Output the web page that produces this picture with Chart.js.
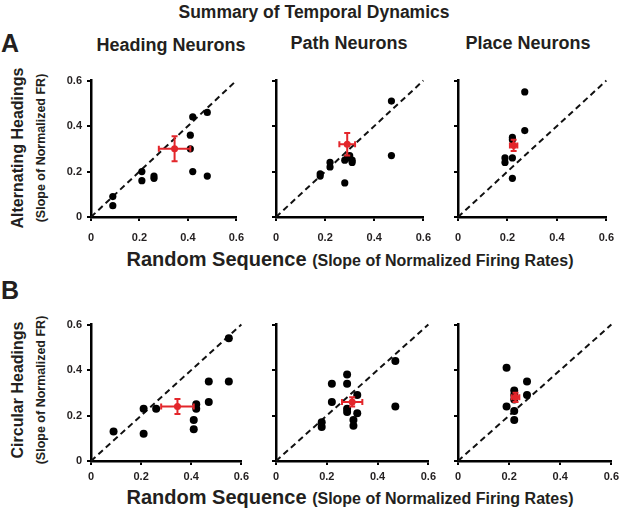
<!DOCTYPE html>
<html>
<head>
<meta charset="utf-8">
<script src="https://cdn.jsdelivr.net/npm/chart.js@4.4.0/dist/chart.umd.min.js"></script>
<style>
body{margin:0;background:#fff;width:625px;height:513px;position:relative;overflow:hidden;
  font-family:"Liberation Sans",Arial,sans-serif;font-weight:bold;color:#231f20}
.t{position:absolute;white-space:nowrap;transform:translate(-50%,-50%)}
.r{position:absolute;white-space:nowrap;transform:translate(-50%,-50%) rotate(-90deg)}
canvas{position:absolute}
</style>
</head>
<body>
<div class="t" style="left:314px;top:12px;font-size:17.5px">Summary of Temporal Dynamics</div>
<div class="t" style="left:10px;top:43px;font-size:25px">A</div>
<div class="t" style="left:10px;top:290px;font-size:25px">B</div>
<div class="t" style="left:171px;top:45px;font-size:18px">Heading Neurons</div>
<div class="t" style="left:349px;top:43px;font-size:18px">Path Neurons</div>
<div class="t" style="left:528px;top:43px;font-size:18px">Place Neurons</div>

<div class="r" style="left:18px;top:148px;font-size:16px">Alternating Headings</div>
<div class="r" style="left:41px;top:148px;font-size:12.5px">(Slope of Normalized FR)</div>
<div class="r" style="left:18px;top:390px;font-size:16px">Circular Headings</div>
<div class="r" style="left:41px;top:390px;font-size:12.5px">(Slope of Normalized FR)</div>

<div class="t" style="left:350px;top:259px;font-size:20px">Random Sequence <span style="font-size:16px">(Slope of Normalized Firing Rates)</span></div>
<div class="t" style="left:350px;top:497px;font-size:20px">Random Sequence <span style="font-size:16px">(Slope of Normalized Firing Rates)</span></div>

<canvas id="a1"></canvas><canvas id="a2"></canvas><canvas id="a3"></canvas>
<canvas id="b1"></canvas><canvas id="b2"></canvas><canvas id="b3"></canvas>

<script>
// tick values (same on both axes)
var tickVals = [0, 0.2, 0.4, 0.6];

// A: alternating headings vs random sequence
var hdAltX = [0.09,0.09,0.21,0.21,0.26,0.26,0.41,0.41,0.42,0.42,0.48,0.48];
var hdAltY = [0.09,0.05,0.20,0.16,0.18,0.17,0.36,0.30,0.44,0.20,0.46,0.18];
var hdAltMean = [0.345, 0.30], hdAltErr = [0.065, 0.055];

var ptAltX = [0.18,0.18,0.22,0.22,0.28,0.28,0.29,0.31,0.31,0.30,0.47,0.47];
var ptAltY = [0.19,0.18,0.24,0.22,0.25,0.15,0.26,0.25,0.24,0.27,0.51,0.27];
var ptAltMean = [0.29, 0.32], ptAltErr = [0.032, 0.05];

var plAltX = [0.27,0.27,0.22,0.22,0.19,0.19,0.22,0.22];
var plAltY = [0.55,0.38,0.35,0.34,0.26,0.24,0.26,0.17];
var plAltMean = [0.225, 0.315], plAltErr = [0.015, 0.025];

// B: circular headings vs random sequence
var hdCirX = [0.09,0.21,0.21,0.26,0.42,0.42,0.41,0.41,0.47,0.47,0.55,0.55];
var hdCirY = [0.13,0.23,0.12,0.23,0.25,0.23,0.18,0.14,0.26,0.35,0.54,0.35];
var hdCirMean = [0.345, 0.24], hdCirErr = [0.065, 0.033];

var ptCirX = [0.18,0.18,0.22,0.22,0.28,0.28,0.28,0.28,0.32,0.32,0.305,0.305,0.47,0.47];
var ptCirY = [0.17,0.15,0.34,0.26,0.38,0.34,0.23,0.215,0.29,0.21,0.18,0.155,0.44,0.24];
var ptCirMean = [0.30, 0.26], ptCirErr = [0.04, 0.02];

var plCirX = [0.19,0.19,0.22,0.22,0.22,0.22,0.22,0.27,0.27];
var plCirY = [0.41,0.24,0.31,0.29,0.27,0.22,0.18,0.35,0.29];
var plCirMean = [0.225, 0.28], plCirErr = [0.015, 0.02];

var red = '#e3262b';
var ink = '#231f20';

// pixel span of each plot area [start, end]
var cols = [[91,242],[276,429],[458,612]];
var rows = [[77,217],[321,461]];

function fmt(v) { return v === 0 ? '0' : v.toFixed(1); }

function setTicks(s) { s.ticks = tickVals.map(function(v){ return {value:v}; }); }

function panel(id, xs, ys, mean, err, col, row) {
	var L = cols[col], T = rows[row];
	var cv = document.getElementById(id);
	cv.width = L[1] - L[0] + 42;
	cv.height = T[1] - T[0] + 38;
	cv.style.left = (L[0] - 30) + 'px';
	cv.style.top = (T[0] - 8) + 'px';

	var pts = xs.map(function(x, i){ return {x:x, y:ys[i]}; });

	// red mean +/- error bars
	var errbars = {
		id: 'errbars',
		afterDatasetsDraw: function(chart) {
			var sx = chart.scales.x, sy = chart.scales.y, c = chart.ctx;
			var cx = sx.getPixelForValue(mean[0]), cy = sy.getPixelForValue(mean[1]);
			var x0 = sx.getPixelForValue(mean[0] - err[0]), x1 = sx.getPixelForValue(mean[0] + err[0]);
			var y0 = sy.getPixelForValue(mean[1] - err[1]), y1 = sy.getPixelForValue(mean[1] + err[1]);
			c.save();
			c.strokeStyle = red; c.lineWidth = 2;
			c.beginPath();
			c.moveTo(x0, cy); c.lineTo(x1, cy);
			c.moveTo(cx, y0); c.lineTo(cx, y1);
			c.moveTo(x0, cy-3); c.lineTo(x0, cy+3);
			c.moveTo(x1, cy-3); c.lineTo(x1, cy+3);
			c.moveTo(cx-3, y0); c.lineTo(cx+3, y0);
			c.moveTo(cx-3, y1); c.lineTo(cx+3, y1);
			c.stroke();
			c.restore();
		}
	};

	var axisGrid = {drawOnChartArea:false, drawTicks:true, tickLength:4, color:'#000', lineWidth:2};
	var axisBorder = {display:true, color:'#000', width:2.5};

	new Chart(cv, {
		type: 'scatter',
		data: {
			datasets: [
				{ data:[{x:mean[0], y:mean[1]}], pointRadius:3.5, backgroundColor:red, borderWidth:0, clip:false },
				{ data:pts, pointRadius: row ? 4 : 3.6, backgroundColor:'#000', borderWidth:0, clip:false },
				{ data:[{x:0,y:0},{x:0.6,y:0.6}], showLine:true, borderColor:'#111', borderWidth:2,
				  borderDash:[6,4], pointRadius:0, clip:false }
			]
		},
		options: {
			responsive: false,
			animation: false,
			layout: { padding: {left:0, right:12, top:8, bottom:0} },
			plugins: { legend:{display:false}, tooltip:{enabled:false} },
			scales: {
				x: {
					type:'linear', min:0, max:0.6,
					afterBuildTicks: setTicks,
					afterFit: function(s){ s.height = 30; },
					grid: axisGrid, border: axisBorder,
					ticks: { color:ink, padding: row ? 5 : 10, maxRotation:0, autoSkip:false, callback:fmt,
					         font:{family:'Liberation Sans', weight:'bold', size:11} }
				},
				y: {
					type:'linear', min:0, max:0.6,
					afterBuildTicks: setTicks,
					afterFit: function(s){ s.width = 30; },
					grid: axisGrid, border: axisBorder,
					ticks: { color: col === 0 ? ink : 'rgba(0,0,0,0)', padding:5, autoSkip:false, callback:fmt,
					         font:{family:'Liberation Sans', weight:'bold', size:11} }
				}
			}
		},
		plugins: [errbars]
	});
}

panel('a1', hdAltX, hdAltY, hdAltMean, hdAltErr, 0, 0);
panel('a2', ptAltX, ptAltY, ptAltMean, ptAltErr, 1, 0);
panel('a3', plAltX, plAltY, plAltMean, plAltErr, 2, 0);
panel('b1', hdCirX, hdCirY, hdCirMean, hdCirErr, 0, 1);
panel('b2', ptCirX, ptCirY, ptCirMean, ptCirErr, 1, 1);
panel('b3', plCirX, plCirY, plCirMean, plCirErr, 2, 1);
</script>
</body>
</html>
